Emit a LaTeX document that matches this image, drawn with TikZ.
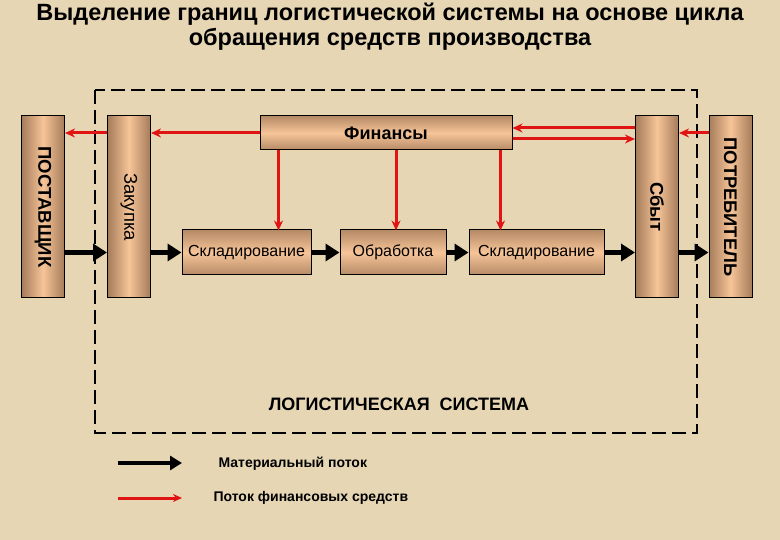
\documentclass[tikz,border=0pt]{standalone}
\usepackage{fontspec}
\setmainfont{Liberation Sans}
\usetikzlibrary{arrows.meta,calc}
\definecolor{paper}{RGB}{230,214,180}
\definecolor{brD}{RGB}{165,124,90}
\definecolor{brL}{RGB}{246,196,152}
\definecolor{finred}{RGB}{225,20,20}
\tikzset{
  vbox/.style={draw=black, line width=1pt, left color=brD, right color=brD, middle color=brL, minimum width=43pt, minimum height=182pt, inner sep=0pt},
  hbox/.style={draw=black, line width=1pt, top color=brD!80!brL, bottom color=brD!80!brL, middle color=brL, inner sep=0pt, font=\fontsize{16}{18}\selectfont},
  mat/.style={line width=5pt, -{Triangle[length=14pt,width=17pt]}},
  money/.style={finred, line width=3pt, -{Stealth[length=10pt,width=9pt]}},
  border/.style={line width=2pt, dash pattern=on 14pt off 6pt}
}
\begin{document}
\begin{tikzpicture}[x=1pt,y=-1pt]
\fill[paper] (0,0) rectangle (780,540);
\useasboundingbox (0,0) rectangle (780,540);
% title
\node[font=\bfseries\fontsize{23.5}{25}\selectfont, align=center] (title) at (390,26.5) {Выделение границ логистической системы на основе цикла\\обращения средств производства};
% boundary
\draw[border] (95,90) rectangle (697,433);
% boxes
\node[vbox, label={[rotate=-90,font=\bfseries\fontsize{18.5}{20}\selectfont]center:ПОСТАВЩИК}] (sup) at (43,207) {};
\node[vbox, label={[rotate=-90,font=\fontsize{18.5}{20}\selectfont]center:Закупка}] (zak) at (129,207) {};
\node[vbox, label={[rotate=-90,font=\bfseries\fontsize{18.5}{20}\selectfont]center:Сбыт}] (sbyt) at (657,207) {};
\node[vbox, label={[rotate=-90,font=\bfseries\fontsize{18.3}{20}\selectfont]center:ПОТРЕБИТЕЛЬ}] (cons) at (730.5,207) {};
\node[hbox, minimum width=252pt, minimum height=34pt, font=\bfseries\fontsize{18}{20}\selectfont] (fin) at (386,133) {Финансы};
\node[hbox, minimum width=129pt, minimum height=45pt] (sk1) at (246.5,252.5) {Складирование};
\node[hbox, minimum width=106pt, minimum height=45pt] (obr) at (393,252.5) {Обработка};
\node[hbox, minimum width=135pt, minimum height=45pt] (sk2) at (536.5,252.5) {Складирование};
% material flow
\draw[mat] (sup.east |- sk1.west) -- (zak.west |- sk1.west);
\draw[mat] (zak.east |- sk1.west) -- (sk1.west);
\draw[mat] (sk1.east) -- (obr.west);
\draw[mat] (obr.east) -- (sk2.west);
\draw[mat] (sk2.east) -- (sbyt.west |- sk2.east);
\draw[mat] (sbyt.east |- sk2.east) -- (cons.west |- sk2.east);
% financial flow
\draw[money] (fin.west) -- (zak.east |- fin.west);
\draw[money] (zak.west |- fin.west) -- (sup.east |- fin.west);
\draw[money] ([xshift=32pt]sk1.north |- fin.south) -- ([xshift=32pt,yshift=-1pt]sk1.north);
\draw[money] ([xshift=3pt]obr.north |- fin.south) -- ([xshift=3pt,yshift=-1pt]obr.north);
\draw[money] ([xshift=-36pt]sk2.north |- fin.south) -- ([xshift=-36pt,yshift=-1pt]sk2.north);
\draw[money] (sbyt.west |- 0,128) -- (fin.east |- 0,128);
\draw[money] (fin.east |- 0,139) -- (sbyt.west |- 0,139);
\draw[money] (cons.west |- fin.east) -- (sbyt.east |- fin.east);
% caption
\node[font=\bfseries\fontsize{18}{20}\selectfont] (sysl) at (399,404) {ЛОГИСТИЧЕСКАЯ\ \ СИСТЕМА};
% legend
\coordinate (l1a) at (118,463); \coordinate (l1b) at (182,463);
\coordinate (l2a) at (118,498); \coordinate (l2b) at (182,498);
\draw[line width=4pt, -{Triangle[length=12pt,width=14pt]}] (l1a) -- (l1b);
\draw[finred, line width=3pt, -{Stealth[length=9pt,width=8pt]}] (l2a) -- (l2b);
\node[anchor=west, font=\bfseries\fontsize{14}{16}\selectfont] (lg1) at (215,464) {Материальный поток};
\node[anchor=west, font=\bfseries\fontsize{14}{16}\selectfont] (lg2) at (210,498) {Поток финансовых средств};
\end{tikzpicture}
\end{document}
